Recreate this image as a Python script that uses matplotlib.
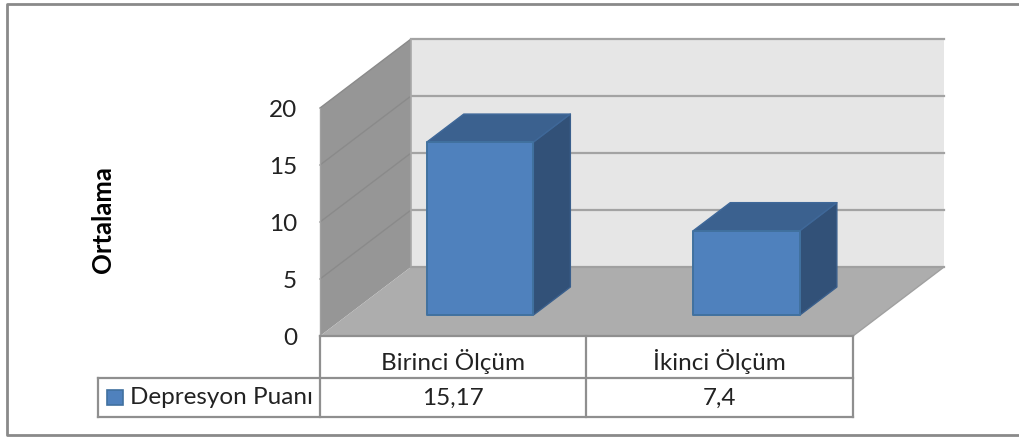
import matplotlib
matplotlib.use('Agg')
import matplotlib.pyplot as plt
from matplotlib.patches import Polygon

categories = ['Birinci Ölçüm', 'İkinci Ölçüm']
series_name = 'Depresyon Puanı'
values = [15.17, 7.4]
value_labels = ['15,17', '7,4']
y_ticks = [0, 5, 10, 15, 20]

plt.rcParams['font.family'] = ['Lato', 'DejaVu Sans']

W, H = 1020, 437
fig = plt.figure(figsize=(W / 100, H / 100), dpi=100, facecolor='white')
ax = fig.add_axes([0, 0, 1, 1])
ax.set_xlim(0, W)
ax.set_ylim(H, 0)
ax.axis('off')

# oblique projection of the 3D column chart box
X0, Y0 = 320, 336
CAT_W = 266.5
UNIT = 11.4
DX, DY = 91, 69
FS = 17.5
TXT = '#222222'


def proj(x, y, z):
    return (X0 + x * CAT_W + z * DX, Y0 - y * UNIT - z * DY)


def face(pts, fc, ec='none', lw=0.0, z=1):
    ax.add_patch(Polygon([proj(*p) for p in pts], closed=True, facecolor=fc,
                         edgecolor=ec, linewidth=lw, zorder=z, joinstyle='round'))


ymax = y_ticks[-1]
n = len(categories)
GRID = '#a3a3a3'

# walls and floor
face([(0, 0, 1), (n, 0, 1), (n, ymax, 1), (0, ymax, 1)], '#e6e6e6')
face([(0, 0, 0), (0, 0, 1), (0, ymax, 1), (0, ymax, 0)], '#969696')
face([(0, 0, 0), (n, 0, 0), (n, 0, 1), (0, 0, 1)], '#adadad')

for t in y_ticks:
    xs, ys = zip(proj(0, t, 0), proj(0, t, 1), proj(n, t, 1))
    if t > 0:
        ax.plot(xs[:2], ys[:2], color='#8a8a8a', lw=1.0, zorder=2)
    ax.plot(xs[1:], ys[1:], color=GRID, lw=1.6, zorder=2)
    ax.text(297, proj(0, t, 0)[1] + 2.5, str(t), ha='right', va='center',
            fontsize=FS, color=TXT)

# wall edges
ax.plot(*zip(proj(0, 0, 1), proj(0, ymax, 1)), color='#a8a8a8', lw=1.2, zorder=2)
ax.plot(*zip(proj(0, 0, 1), proj(n, 0, 1), proj(n, 0, 0)), color='#a0a0a0', lw=1.0, zorder=2)
ax.plot(*zip(proj(0, 0, 0), proj(0, ymax, 0)), color='#a0a0a0', lw=1.0, zorder=2)

# columns
BAR_W = 0.4
BAR_SHIFT = -0.003
Z1, Z2 = 0.304, 0.71
for i, v in enumerate(values):
    a = i + 0.5 + BAR_SHIFT - BAR_W / 2
    b = i + 0.5 + BAR_SHIFT + BAR_W / 2
    face([(b, 0, Z1), (b, 0, Z2), (b, v, Z2), (b, v, Z1)], '#325178', '#3a5f8c', 1.0, 3)
    face([(a, v, Z1), (b, v, Z1), (b, v, Z2), (a, v, Z2)], '#3b618f', '#3f6899', 1.0, 3)
    face([(a, 0, Z1), (b, 0, Z1), (b, v, Z1), (a, v, Z1)], '#4f81bd', '#41719f', 1.4, 4)

# data table below the chart box
LINE = '#8f8f8f'
x_cols = [X0 + i * CAT_W for i in range(n + 1)]
R1, R2, R3 = Y0, 378, 417
LEG_L = 98
ax.plot([x_cols[0], x_cols[-1]], [R1, R1], color=LINE, lw=1.6, zorder=5)
ax.plot([LEG_L, x_cols[-1]], [R2, R2], color=LINE, lw=1.6, zorder=5)
ax.plot([LEG_L, x_cols[-1]], [R3, R3], color=LINE, lw=1.6, zorder=5)
ax.plot([LEG_L, LEG_L], [R2, R3], color=LINE, lw=1.6, zorder=5)
for x in x_cols:
    ax.plot([x, x], [R1, R3], color=LINE, lw=1.6, zorder=5)

for i, (c, lab) in enumerate(zip(categories, value_labels)):
    cx = x_cols[i] + CAT_W / 2
    ax.text(cx, (R1 + R2) / 2 + 5, c, ha='center', va='center', fontsize=FS, color=TXT)
    ax.text(cx, (R2 + R3) / 2 + 1, lab, ha='center', va='center', fontsize=FS, color=TXT)

# legend key and series name
ax.add_patch(plt.Rectangle((107, 390), 16, 15, facecolor='#4f81bd',
                           edgecolor='#41719f', linewidth=1.2, zorder=5))
ax.text(130, (R2 + R3) / 2, series_name, ha='left', va='center', fontsize=FS, color=TXT)

ax.text(103, 220, 'Ortalama', rotation=90, ha='center', va='center',
        fontsize=18.5, fontweight='bold', color='black')

# chart area border, open on the right edge
ax.plot([W, 7, 7, W], [4, 4, 435, 435], color='#8a8a8a', lw=2.0,
        zorder=6, clip_on=False)

fig.savefig('out.png', dpi=100, facecolor='white')
plt.close(fig)
